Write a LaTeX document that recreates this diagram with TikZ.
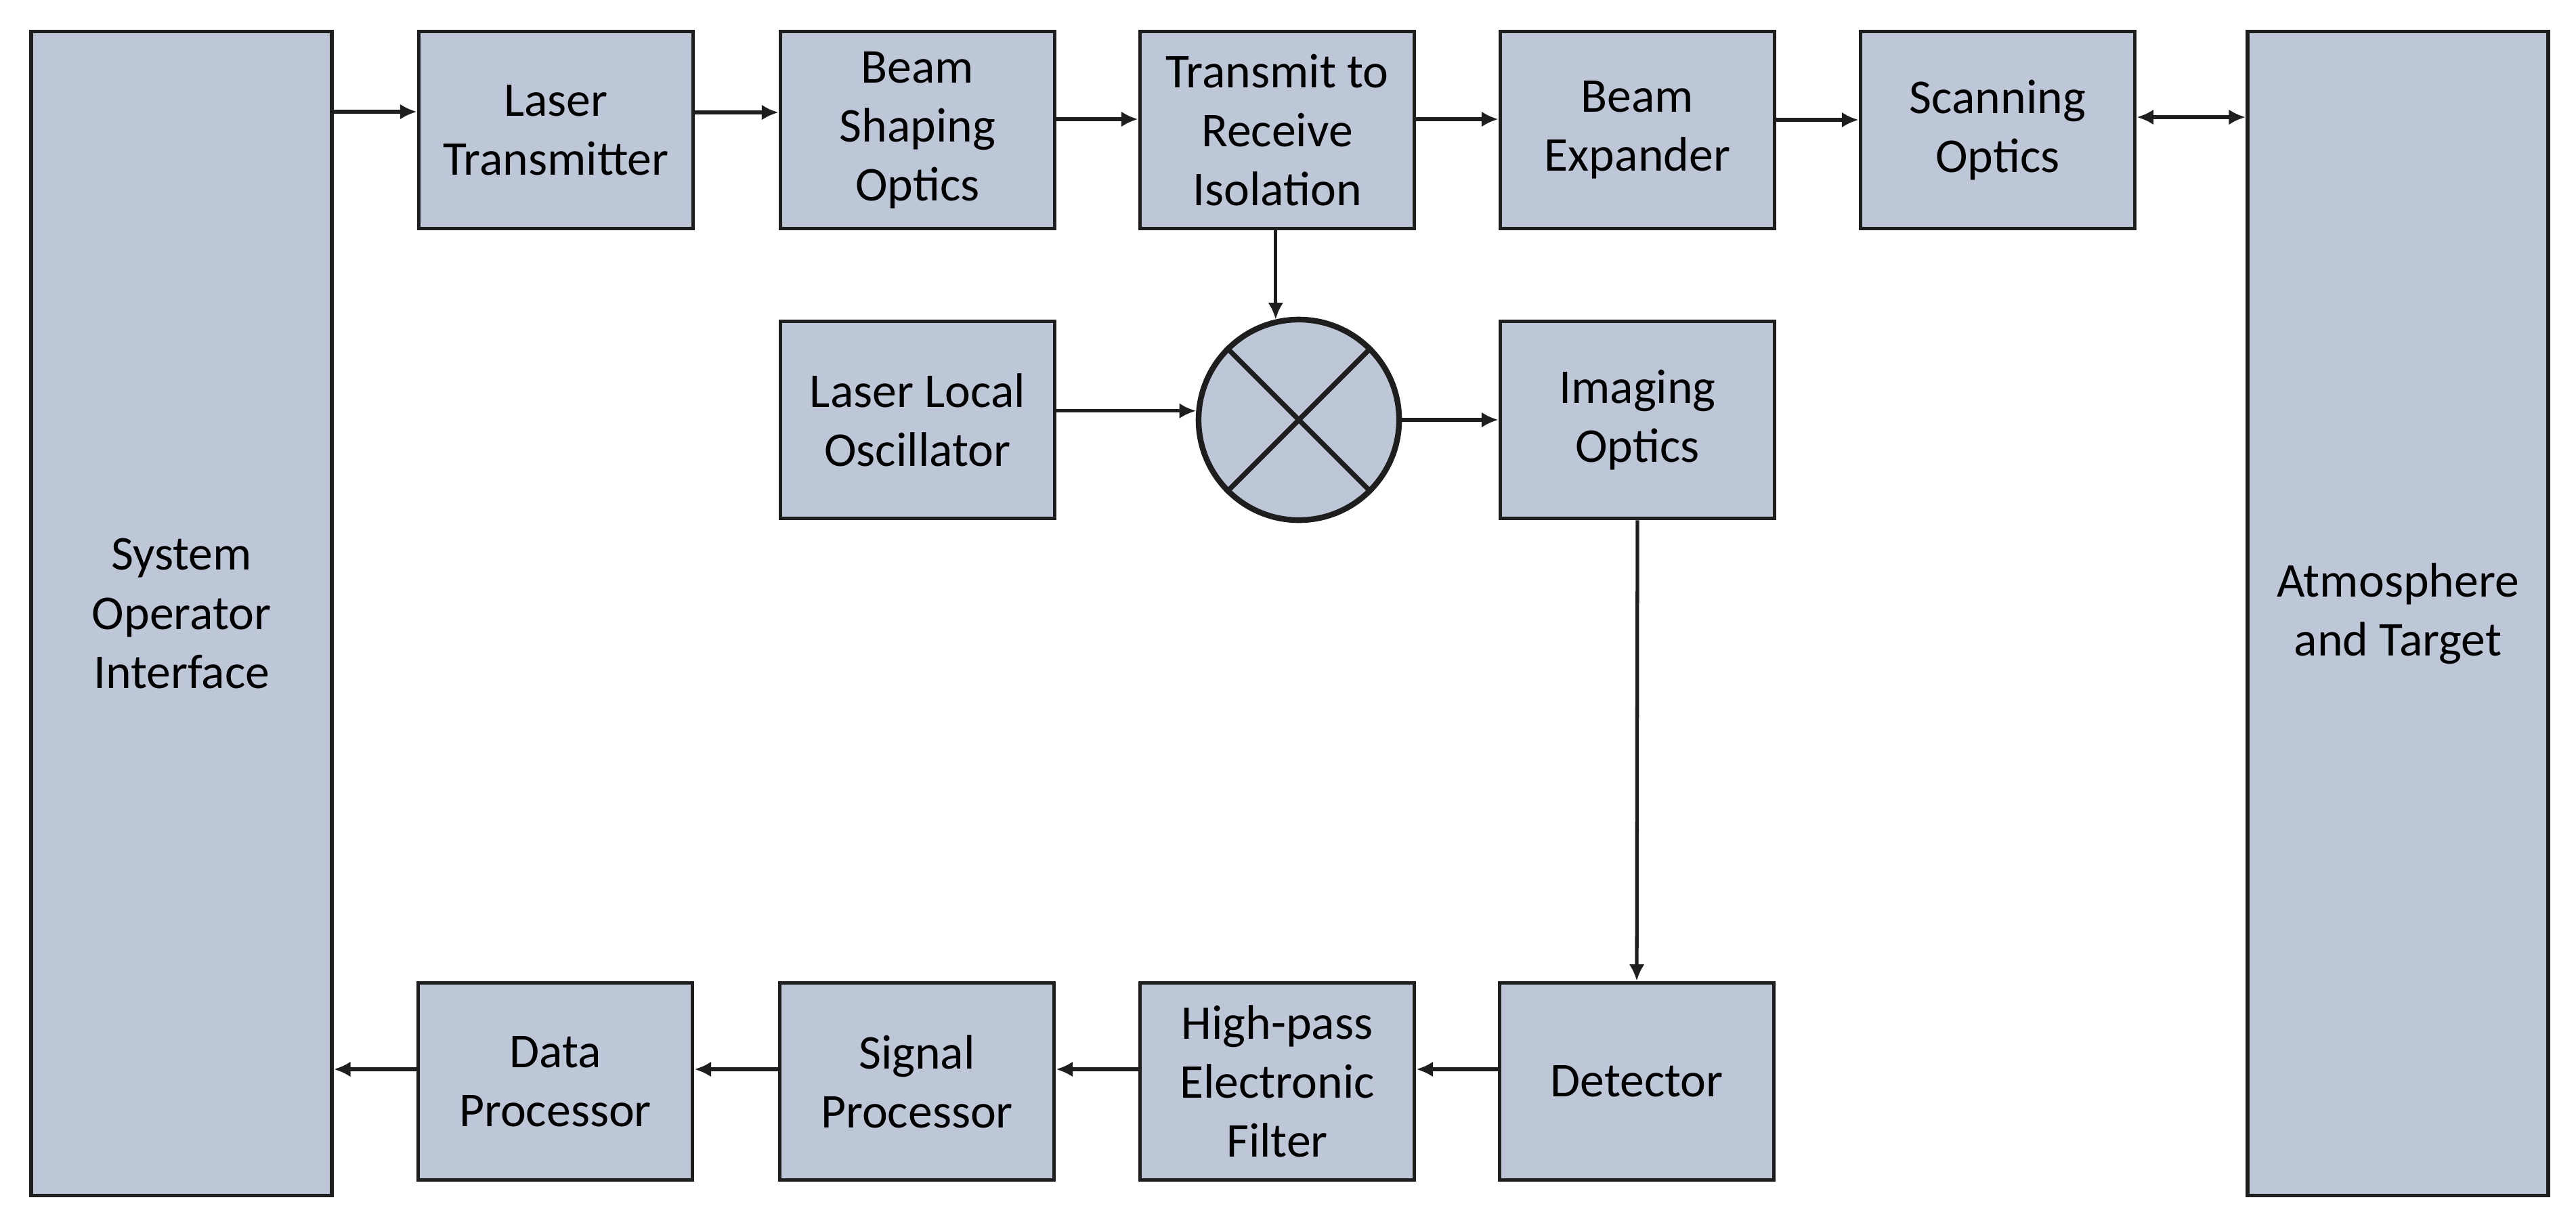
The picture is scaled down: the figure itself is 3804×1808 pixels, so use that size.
\documentclass[tikz,border=0pt]{standalone}
\usepackage{fontspec}
\setmainfont{Carlito}
\usetikzlibrary{arrows.meta}
\definecolor{boxfill}{HTML}{BEC7D8}
\definecolor{edge}{HTML}{1E1E1E}
\begin{document}
\begin{tikzpicture}[x=0.01cm,y=-0.01cm,
  box/.style={draw=edge, line width=1.6pt, fill=boxfill, minimum width=4.05cm, minimum height=2.91cm,
    inner sep=0pt, align=center, font=\fontsize{20.4pt}{24.8pt}\selectfont},
  bigbox/.style={box, minimum width=4.44cm, minimum height=17.18cm},
  conn/.style={draw=edge, line width=1.5pt, -{Latex[length=7pt,width=6.5pt]}},
  biconn/.style={draw=edge, line width=1.5pt, {Latex[length=7pt,width=6.5pt]}-{Latex[length=7pt,width=6.5pt]}}
]
\useasboundingbox (0,0) rectangle (3804,1808);
% big side boxes
\node[bigbox] (soi) at (268,906) {System\\Operator\\Interface};
\node[bigbox] (at) at (3541,906) {Atmosphere\\and Target};
% top row
\node[box] (lt)  at (821,192)  {Laser\\Transmitter};
\node[box] (bso) at (1355,192) {Beam\\Shaping\\Optics};
\node[box] (tri) at (1886,192) {Transmit to\\Receive\\Isolation};
\node[box] (be)  at (2418,192) {Beam\\Expander};
\node[box] (so)  at (2950,192) {Scanning\\Optics};
% middle row
\node[box] (llo) at (1355,620) {Laser Local\\Oscillator};
\node[circle, draw=edge, line width=2.4pt, fill=boxfill, minimum size=2.96cm, inner sep=0pt] (mix) at (1918,620) {};
\draw[draw=edge, line width=2.1pt] (mix.45) -- (mix.-135) (mix.135) -- (mix.-45);
\node[box] (io)  at (2418,620) {Imaging\\Optics};
% bottom row
\node[box] (dp)  at (820,1597)  {Data\\Processor};
\node[box] (sp)  at (1354,1597) {Signal\\Processor};
\node[box] (hpf) at (1886,1597) {High-pass\\Electronic\\Filter};
\node[box] (det) at (2417,1597) {Detector};
% top connectors
\draw[conn] (soi.east |- 0,165) -- (lt.west |- 0,165);
\draw[conn] (lt.east |- 0,166) -- (bso.west |- 0,166);
\draw[conn] (bso.east |- 0,176) -- (tri.west |- 0,176);
\draw[conn] (tri.east |- 0,176) -- (be.west |- 0,176);
\draw[conn] (be.east |- 0,177) -- (so.west |- 0,177);
\draw[biconn] (so.east |- 0,173) -- (at.west |- 0,173);
% mixer connectors
\draw[conn] (tri.south -| mix.103) -- (mix.103);
\draw[conn] (llo.east |- mix.175) -- (mix.175);
\draw[conn] (mix.east) -- (io.west);
\draw[conn] (io.south) -- (det.north);
% bottom connectors
\draw[conn] (det.west |- 0,1579) -- (hpf.east |- 0,1579);
\draw[conn] (hpf.west |- 0,1579) -- (sp.east |- 0,1579);
\draw[conn] (sp.west |- 0,1579) -- (dp.east |- 0,1579);
\draw[conn] (dp.west |- 0,1579) -- (soi.east |- 0,1579);
\end{tikzpicture}
\end{document}
